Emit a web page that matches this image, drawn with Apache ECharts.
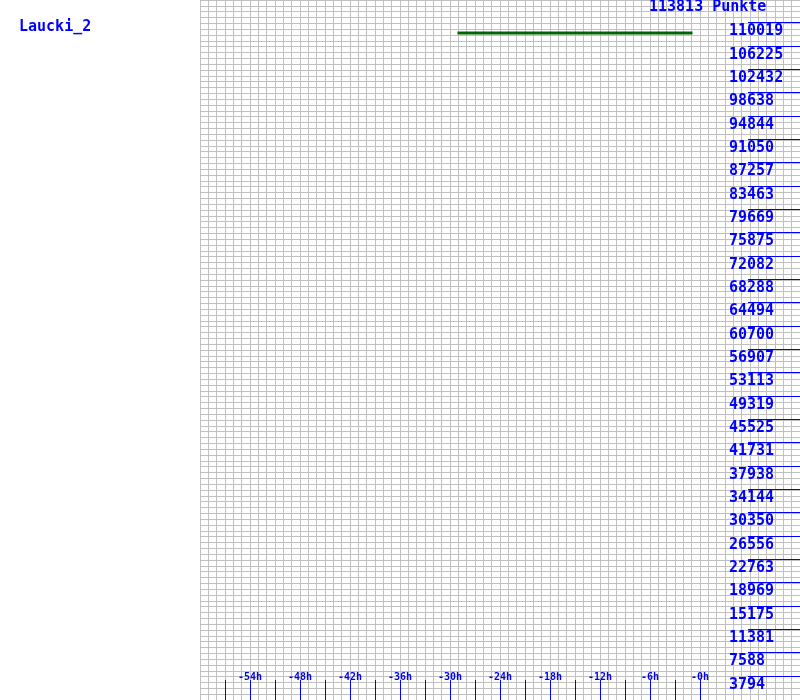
<!DOCTYPE html>
<html><head><meta charset="utf-8">
<script src="https://cdn.jsdelivr.net/npm/echarts@6/dist/echarts.min.js"></script>
<style>html,body{margin:0;padding:0;background:#fff}#c{width:800px;height:700px}</style>
</head><body><div id="c"></div>
<script>
const seriesName = 'Laucki_2';
const totalPoints = 113813;
const xTickHours = [-57,-54,-51,-48,-45,-42,-39,-36,-33,-30,-27,-24,-21,-18,-15,-12,-9,-6,-3,0];
const xLabelHours = [-54,-48,-42,-36,-30,-24,-18,-12,-6,0];
const yTickLabels = [3794,7588,11381,15175,18969,22763,26556,30350,34144,37938,41731,45525,49319,53113,56907,60700,64494,68288,72082,75875,79669,83463,87257,91050,94844,98638,102432,106225,110019];
const lineHours = [-29.1, -0.9];
const lineValues = [108450, 108450];

const blue = '#0000ff';
const bigFont = 'bold 15px "DejaVu Sans Mono"';
const smallFont = 'bold 10px "DejaVu Sans Mono"';
const X_MIN = -60, X_MAX = 12;
const chart = echarts.init(document.getElementById('c'), null, {renderer:'canvas'});
const hourLabel = v => (v <= 0 ? '-' + Math.abs(v) : String(v)) + 'h';
chart.setOption({
  animation: false,
  backgroundColor: '#fff',
  grid: {left: 200, right: 0, top: 0, bottom: 0},
  xAxis: {type:'value', min:X_MIN, max:X_MAX, interval:1,
     axisLine:{show:false}, axisTick:{show:false}, axisLabel:{show:false},
     splitLine:{show:true, lineStyle:{color:'#c0c0c0', width:1}}},
  yAxis: {type:'value', min:0, max:totalPoints, interval: totalPoints/120,
     axisLine:{show:false}, axisTick:{show:false}, axisLabel:{show:false},
     splitLine:{show:true, lineStyle:{color:'#c0c0c0', width:1}}},
  graphic: [
    {type:'text', left:19, top:20, z:10, style:{text:seriesName, fill:blue, font:bigFont}},
    {type:'text', left:649, top:0, z:10, style:{text: totalPoints + ' Punkte', fill:blue, font:bigFont}}
  ],
  series: [
    {type:'line', showSymbol:false, silent:true, z:5,
     data: lineHours.map((h,i)=>[h, lineValues[i]]),
     lineStyle:{color:'#006400', width:3}},
    {type:'custom', silent:true, clip:false, z:6,
     data: yTickLabels.map(v=>[X_MAX, v]),
     renderItem: (params, api) => {
       const v = api.value(1);
       const p = api.coord([api.value(0), v]);
       const y = Math.round(p[1]) - 0.5;
       return {type:'group', children:[
         {type:'line', shape:{x1:p[0]-52, y1:y, x2:p[0], y2:y}, style:{stroke:blue, lineWidth:1}},
         {type:'text', x:p[0]-71, y:y+1, style:{text:String(v), fill:blue, font:bigFont, textAlign:'left', textVerticalAlign:'top'}}
       ]};
     }},
    {type:'custom', silent:true, clip:false, z:6,
     data: xTickHours.map(h=>[h, 0]),
     renderItem: (params, api) => {
       const p = api.coord([api.value(0), api.value(1)]);
       const x = Math.round(p[0]) + 0.5;
       return {type:'line', shape:{x1:x, y1:p[1]-20, x2:x, y2:p[1]}, style:{stroke:blue, lineWidth:1}};
     }},
    {type:'custom', silent:true, clip:false, z:7,
     data: xLabelHours.map(h=>[h, 0]),
     renderItem: (params, api) => {
       const h = api.value(0);
       const p = api.coord([h, api.value(1)]);
       return {type:'text', x:p[0], y:p[1]-23, style:{text:hourLabel(h), fill:blue, font:smallFont, textAlign:'center', textVerticalAlign:'middle'}};
     }}
  ]
});
</script></body></html>
